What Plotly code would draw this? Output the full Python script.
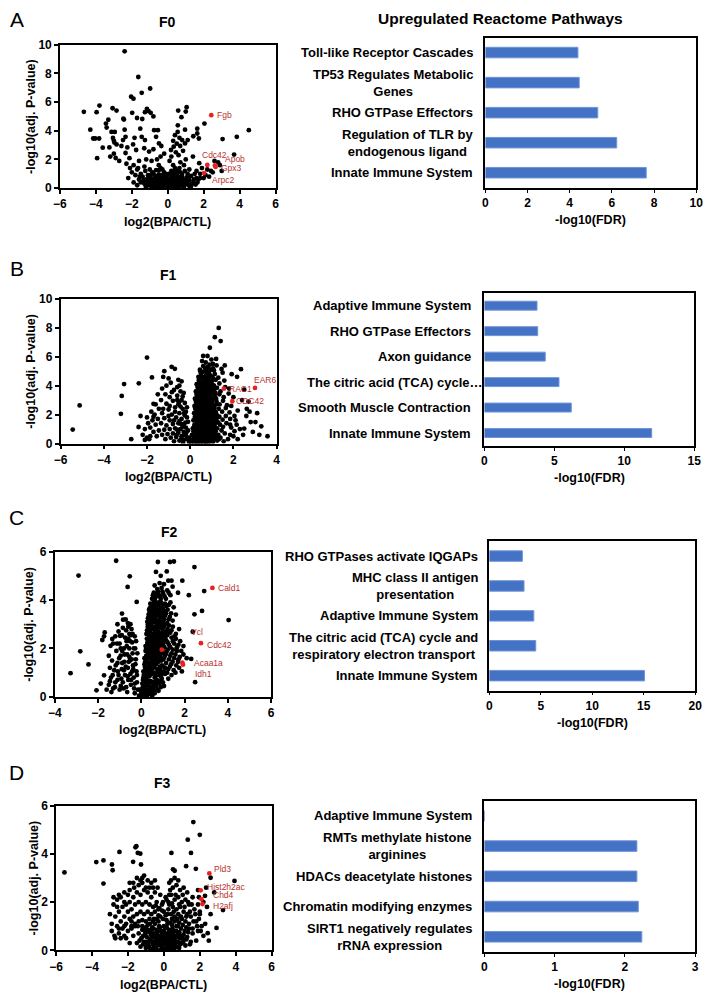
import plotly.graph_objects as go

# ------------------------------------------------------------------ data
# F0 volcano (log2 fold change, -log10 adj. P)
f0_points = [
    (-2.40, 9.54), (-1.64, 7.75), (-0.98, 6.95), (-1.45, 6.65), (-2.04, 6.38), (-1.91, 6.24),
    (-4.67, 5.32), (-3.80, 5.76), (-3.96, 5.30), (-3.07, 5.57), (-2.85, 5.41), (-2.47, 4.84), (-2.44, 4.78),
    (-1.98, 5.25), (-1.71, 4.89), (-1.42, 4.82), (-1.16, 5.53), (-1.07, 5.37), (-1.27, 5.30), (-0.95, 5.25),
    (-0.80, 5.00), (-3.44, 4.50), (-3.31, 4.77), (-3.40, 4.22), (-4.31, 4.08), (-4.15, 3.46), (-4.04, 3.46),
    (-3.82, 3.46), (-3.93, 2.09), (-3.62, 2.82), (-3.25, 2.84), (-3.13, 3.92), (-2.95, 3.92), (-3.05, 3.50),
    (-3.00, 3.30), (-2.97, 3.18), (-2.85, 3.05), (-2.40, 4.08), (-2.35, 3.58), (-2.49, 3.35), (-2.58, 2.94),
    (-2.25, 2.84), (-2.35, 2.45), (-2.13, 2.09), (-1.85, 3.51), (-1.93, 3.05), (-1.76, 2.66), (-1.53, 4.15),
    (-1.45, 3.58), (-1.27, 3.35), (-1.31, 2.78), (-1.04, 2.55), (-0.76, 4.04), (-0.55, 4.04), (-0.65, 3.58),
    (-0.49, 3.12), (-0.36, 2.94), (-0.80, 2.71), (-3.00, 2.40), (-2.90, 2.10), (-2.70, 1.90), (-3.20, 2.20),
    (-2.20, 0.70), (-1.50, 1.00),
    (1.05, 5.64), (1.00, 5.34), (0.58, 5.41), (0.76, 4.95), (0.56, 4.38), (0.96, 4.08), (0.55, 3.92),
    (0.65, 3.51), (0.40, 3.69), (0.80, 3.35), (0.96, 3.12), (1.11, 3.35), (0.69, 2.94), (0.33, 2.89),
    (0.18, 2.66), (1.64, 4.15), (1.64, 3.81), (1.42, 3.62), (1.73, 3.46), (2.04, 4.50), (3.05, 3.42),
    (3.84, 3.58), (4.51, 4.04), (3.69, 2.34), (1.75, 1.74),
    (0.30, 3.30), (0.50, 3.10), (0.45, 2.50), (0.60, 2.30), (0.20, 2.20), (0.85, 2.60), (1.00, 2.00),
    (0.90, 1.60), (1.20, 1.30), (1.40, 2.20), (0.10, 1.90), (-0.20, 2.40), (-0.40, 2.20), (-0.60, 2.00),
    (-0.50, 1.60), (-0.90, 1.90), (-1.20, 2.00), (-1.60, 1.90), (-1.90, 1.60), (-2.10, 1.40), (-2.30, 1.70),
    (-1.70, 1.30), (-1.30, 1.50), (-0.30, 1.30), (0.30, 1.60), (0.70, 1.80),
    (2.20, 1.30), (2.40, 1.20), (1.90, 1.40), (2.10, 0.90), (2.30, 0.80), (2.50, 1.10), (2.90, 1.60),
    (2.80, 1.80), (3.00, 1.20), (2.60, 1.90), (1.80, 1.00), (1.70, 0.60), (2.00, 0.70), (1.60, 1.20),
    (-1.80, 0.90), (-1.60, 0.60), (-1.50, 0.40), (-1.40, 0.80), (-1.30, 0.30), (-1.20, 0.60), (-1.10, 0.90),
    (-1.10, 0.20), (-1.00, 0.50), (-0.95, 0.75), (-0.90, 0.30), (-0.85, 1.10), (-0.80, 0.10), (-0.75, 0.55),
    (-0.70, 0.85), (-0.70, 0.30), (-0.65, 1.25), (-0.60, 0.60), (-0.55, 0.15), (-0.50, 0.45), (-0.50, 0.95),
    (-0.45, 0.70), (-0.40, 0.25), (-0.40, 1.40), (-0.35, 0.55), (-0.30, 0.90), (-0.30, 0.10), (-0.25, 0.40),
    (-0.20, 0.70), (-0.20, 1.10), (-0.15, 0.20), (-0.10, 0.50), (-0.10, 0.85), (-0.05, 0.05), (0.00, 0.30),
    (0.00, 0.65), (0.05, 1.00), (0.10, 0.15), (0.10, 0.45), (0.15, 0.80), (0.20, 0.30), (0.20, 1.20),
    (0.25, 0.60), (0.30, 0.05), (0.30, 0.90), (0.35, 0.35), (0.40, 0.70), (0.40, 1.40), (0.45, 0.15),
    (0.50, 0.50), (0.50, 1.00), (0.55, 0.80), (0.60, 0.25), (0.65, 0.60), (0.70, 1.10), (0.75, 0.40),
    (0.80, 0.80), (0.85, 0.15), (0.90, 0.55), (0.95, 1.20), (1.00, 0.35), (1.05, 0.75), (1.10, 1.00),
    (1.15, 0.20), (1.20, 0.55), (1.30, 0.85), (1.35, 0.30), (1.45, 0.60), (1.50, 1.00), (1.55, 0.25),
    (1.60, 0.70), (-1.70, 0.20), (-1.90, 0.40), (-2.00, 1.10), (-0.60, 0.05), (-0.35, 0.00), (0.15, 0.00),
    (0.60, 0.00), (-0.90, 0.00), (-1.25, 1.20), (-1.00, 1.30), (0.90, 0.00), (1.25, 0.05),
    (-0.78, 0.35), (-0.62, 0.42), (-0.48, 0.28), (-0.33, 0.20), (-0.18, 0.55), (-0.02, 0.40), (0.12, 0.60),
    (0.27, 0.45), (0.42, 0.50), (0.58, 0.42), (0.72, 0.20), (-0.68, 0.72), (-0.52, 0.62), (-0.28, 0.62),
    (-0.08, 0.18), (0.08, 0.30), (0.22, 0.12), (0.38, 0.22), (0.52, 0.30), (0.68, 0.78), (-0.88, 0.60),
    (-1.05, 0.70), (0.82, 0.50), (1.10, 0.45),
    (-1.35, 0.55), (-1.22, 0.10), (-1.15, 0.45), (-0.98, 0.20), (-0.92, 0.45), (-0.82, 0.55), (-0.72, 0.15),
    (-0.58, 0.35), (-0.44, 0.55), (-0.38, 0.10), (-0.24, 0.25), (-0.12, 0.35), (0.03, 0.15), (0.05, 0.50),
    (0.17, 0.42), (0.33, 0.62), (0.45, 0.32), (0.55, 0.10), (0.62, 0.55), (0.78, 0.60), (0.92, 0.20),
    (1.02, 0.55), (1.18, 0.75), (1.30, 0.15), (1.42, 0.40), (-0.60, 0.80), (-0.35, 0.75), (-0.12, 1.00),
    (0.25, 0.90), (0.55, 1.20), (0.80, 1.00), (-0.80, 1.00), (-1.00, 0.90), (0.35, 1.15), (-0.50, 1.25),
    (0.65, 1.40), (-1.55, 0.80), (1.65, 0.40), (1.80, 0.70), (-1.65, 1.40),
]
f0_genes = ["Fgb", "Cdc42", "Apob", "Gpx3", "Arpc2"]
f0_red = [(2.42, 5.09), (2.20, 1.62), (2.62, 1.58), (2.66, 1.48), (2.02, 1.05)]

# F1 volcano
f1_points = [
    (-5.44, 0.96), (-5.12, 2.63), (-3.06, 4.11), (-3.17, 3.29), (-3.21, 2.05), (-2.38, 4.16), (-2.39, 1.14),
    (-2.73, 0.30), (-2.00, 5.94), (-1.77, 4.57), (-1.70, 2.74),
    (-0.86, 5.30), (-0.71, 5.16), (-1.20, 5.00), (-1.25, 4.60), (-1.00, 4.50), (-0.55, 4.40), (-1.10, 4.00),
    (-0.90, 4.20), (-0.40, 4.30), (-0.60, 3.90), (-1.30, 3.80), (-0.75, 3.70), (-0.45, 3.60), (-1.50, 3.40),
    (-1.15, 3.40), (-0.30, 3.50), (-0.95, 3.20), (-0.60, 3.30), (-1.35, 3.00), (-0.80, 2.95), (-0.40, 3.00),
    (-1.60, 2.70), (-1.10, 2.75), (-0.55, 2.70), (-0.25, 2.80), (-1.80, 2.20), (-1.45, 2.40), (-1.00, 2.35),
    (-0.70, 2.50), (-0.35, 2.40), (-2.00, 1.80), (-1.65, 2.00), (-1.30, 2.10), (-0.85, 2.00), (-0.50, 2.10),
    (-0.20, 2.20), (-1.95, 1.40), (-1.75, 1.60), (-1.50, 1.70), (-1.20, 1.75), (-0.95, 1.60), (-0.65, 1.80),
    (-0.40, 1.70), (-0.15, 1.80), (-2.10, 1.00), (-1.85, 1.10), (-1.60, 1.30), (-1.35, 1.40), (-1.10, 1.25),
    (-0.80, 1.35), (-0.55, 1.40), (-0.30, 1.30), (-0.10, 1.50), (-1.70, 0.80), (-1.45, 0.90), (-1.20, 0.95),
    (-0.95, 1.00), (-0.70, 1.05), (-0.45, 1.00), (-0.20, 1.10), (-1.55, 0.50), (-1.30, 0.60), (-1.05, 0.65),
    (-0.80, 0.70), (-0.55, 0.75), (-0.30, 0.80), (-0.10, 0.90), (-1.15, 0.30), (-0.90, 0.40), (-0.65, 0.45),
    (-0.40, 0.50), (-0.20, 0.55), (-0.75, 0.15), (-0.50, 0.20), (-0.30, 0.25), (-0.15, 0.30), (-0.05, 0.10),
    (-0.60, 3.00), (-0.45, 2.55), (-0.70, 2.20), (-0.25, 1.95), (-0.50, 1.55), (-0.35, 1.15), (-0.60, 0.95),
    (-0.25, 0.60), (-0.40, 0.35), (-0.95, 2.60), (-1.25, 2.40), (-0.85, 3.55), (-0.50, 4.00), (-1.70, 1.85),
    (-0.15, 2.50), (-0.10, 0.35), (-0.35, 3.25), (-0.75, 1.60), (-1.00, 1.90), (-2.30, 1.90), (-2.20, 0.60),
    (-2.00, 0.40), (-1.90, 0.30), (-2.10, 0.25), (-1.85, 0.50), (-0.28, 2.10), (-0.42, 1.35), (-0.18, 0.75),
    (-0.62, 0.60), (-0.33, 0.05), (-0.52, 2.85), (-0.22, 1.45),
    (0.05, 0.05), (0.12, 0.25), (0.18, 0.10), (0.25, 0.35), (0.30, 0.15), (0.38, 0.40), (0.45, 0.08),
    (0.50, 0.30), (0.58, 0.18), (0.65, 0.42), (0.72, 0.10), (0.80, 0.30), (0.88, 0.20), (0.95, 0.45),
    (1.05, 0.12), (1.15, 0.35), (1.25, 0.20), (1.40, 0.40), (1.55, 0.15), (1.75, 0.30), (0.00, 0.20),
    (-0.05, 0.40),
    (0.08, 0.60), (0.15, 0.85), (0.22, 0.55), (0.30, 0.75), (0.36, 0.95), (0.42, 0.60), (0.50, 0.85),
    (0.56, 0.55), (0.63, 0.75), (0.70, 0.95), (0.77, 0.60), (0.85, 0.80), (0.92, 0.55), (1.00, 0.90),
    (1.08, 0.65), (1.18, 0.85), (1.30, 0.60), (1.45, 0.90), (1.60, 0.70), (1.85, 0.60), (2.05, 0.85),
    (0.12, 1.05), (0.20, 1.30), (0.27, 1.10), (0.34, 1.45), (0.40, 1.20), (0.47, 1.00), (0.54, 1.35),
    (0.60, 1.15), (0.68, 1.40), (0.74, 1.05), (0.82, 1.30), (0.90, 1.10), (0.97, 1.45), (1.05, 1.20),
    (1.15, 1.40), (1.25, 1.05), (1.38, 1.30), (1.52, 1.15), (1.68, 1.40), (1.90, 1.10), (2.15, 1.30),
    (0.15, 1.60), (0.22, 1.85), (0.30, 1.55), (0.37, 1.75), (0.44, 1.95), (0.50, 1.60), (0.57, 1.80),
    (0.64, 1.55), (0.71, 1.90), (0.78, 1.65), (0.86, 1.85), (0.94, 1.55), (1.02, 1.75), (1.12, 1.95),
    (1.22, 1.60), (1.35, 1.85), (1.50, 1.65), (1.65, 1.90), (1.85, 1.70), (2.05, 1.90),
    (0.18, 2.10), (0.25, 2.35), (0.32, 2.05), (0.40, 2.25), (0.47, 2.45), (0.54, 2.10), (0.61, 2.30),
    (0.68, 2.05), (0.75, 2.40), (0.83, 2.15), (0.90, 2.35), (0.98, 2.05), (1.08, 2.30), (1.20, 2.10),
    (1.32, 2.40), (1.48, 2.20), (1.65, 2.45), (1.82, 2.15),
    (0.20, 2.60), (0.28, 2.85), (0.36, 2.55), (0.43, 2.75), (0.50, 2.95), (0.58, 2.60), (0.66, 2.80),
    (0.74, 2.55), (0.82, 2.90), (0.90, 2.65), (0.99, 2.85), (1.10, 2.60), (1.22, 2.90), (1.36, 2.70),
    (1.52, 2.95), (1.70, 2.65),
    (0.22, 3.10), (0.30, 3.35), (0.38, 3.05), (0.46, 3.25), (0.54, 3.45), (0.62, 3.10), (0.70, 3.30),
    (0.78, 3.05), (0.87, 3.40), (0.96, 3.15), (1.07, 3.35), (1.20, 3.10), (1.35, 3.40), (1.55, 3.20),
    (1.78, 3.45),
    (0.26, 3.60), (0.35, 3.85), (0.44, 3.55), (0.52, 3.75), (0.60, 3.95), (0.69, 3.60), (0.78, 3.80),
    (0.88, 3.55), (0.98, 3.90), (1.10, 3.65), (1.24, 3.85), (1.40, 3.60), (1.62, 3.90),
    (0.30, 4.10), (0.40, 4.35), (0.50, 4.05), (0.60, 4.25), (0.70, 4.45), (0.80, 4.10), (0.92, 4.30),
    (1.04, 4.05), (1.18, 4.40), (1.35, 4.15), (1.58, 4.35),
    (0.38, 4.60), (0.50, 4.85), (0.62, 4.55), (0.74, 4.75), (0.87, 4.95), (1.00, 4.60), (1.14, 4.80),
    (1.30, 4.55), (1.50, 4.90),
    (0.45, 5.10), (0.60, 5.35), (0.75, 5.15), (0.90, 5.45), (1.05, 5.20), (1.22, 5.40), (1.45, 5.15),
    (0.55, 5.70), (0.72, 5.60), (0.98, 5.80), (1.20, 5.85), (0.60, 6.05), (0.80, 6.05), (0.91, 6.62),
    (1.14, 7.35), (1.41, 7.08), (1.32, 7.99), (1.60, 5.40), (1.05, 5.50),
    (0.24, 0.50), (0.33, 0.05), (0.41, 0.30), (0.48, 0.70), (0.55, 0.25), (0.62, 0.05), (0.69, 0.60),
    (0.76, 0.35), (0.84, 0.05), (0.91, 0.70), (0.99, 0.30), (1.10, 0.50), (0.26, 1.60), (0.33, 1.00),
    (0.40, 1.70), (0.48, 1.25), (0.55, 2.00), (0.62, 1.35), (0.70, 1.70), (0.78, 1.20), (0.85, 2.00),
    (0.92, 1.30), (1.00, 1.60), (1.10, 1.00), (0.28, 2.20), (0.35, 2.70), (0.42, 3.00), (0.50, 2.30),
    (0.57, 3.30), (0.64, 2.50), (0.71, 3.50), (0.79, 2.70), (0.86, 3.60), (0.94, 2.90), (1.02, 3.70),
    (1.12, 2.45), (0.34, 3.50), (0.42, 3.90), (0.50, 4.20), (0.58, 4.60), (0.66, 3.40), (0.74, 4.00),
    (0.83, 4.60), (0.93, 3.80), (1.06, 4.40), (0.47, 5.00), (0.68, 5.00), (0.83, 5.30),
    (0.17, 0.42), (0.21, 0.18), (0.29, 0.62), (0.36, 0.22), (0.44, 0.50), (0.52, 0.15), (0.59, 0.65),
    (0.67, 0.28), (0.74, 0.78), (0.82, 0.45), (0.89, 0.15), (0.97, 0.62), (1.03, 0.38), (1.13, 0.72),
    (1.22, 0.45), (1.33, 0.30), (0.19, 1.18), (0.24, 0.95), (0.31, 1.30), (0.38, 1.05), (0.45, 1.55),
    (0.52, 0.90), (0.59, 1.60), (0.66, 1.10), (0.73, 1.50), (0.81, 0.95), (0.88, 1.55), (0.95, 1.15),
    (1.04, 1.50), (1.13, 1.20), (1.20, 1.75), (1.30, 1.45), (0.21, 1.72), (0.27, 2.00), (0.34, 1.90),
    (0.41, 2.15), (0.48, 1.85), (0.55, 2.20), (0.62, 1.75), (0.69, 2.20), (0.76, 1.95), (0.83, 2.28),
    (0.90, 1.95), (0.97, 2.20), (1.06, 1.90), (1.15, 2.20), (1.25, 1.90), (0.23, 2.45), (0.30, 2.70),
    (0.37, 2.40), (0.44, 2.60), (0.51, 2.45), (0.58, 2.75), (0.65, 2.40), (0.72, 2.65), (0.79, 2.40),
    (0.86, 2.70), (0.93, 2.45), (1.01, 2.70), (1.10, 2.45), (1.20, 2.70), (0.26, 2.95), (0.33, 3.20),
    (0.40, 2.90), (0.47, 3.10), (0.55, 3.30), (0.63, 2.95), (0.71, 3.20), (0.79, 3.35), (0.87, 3.05),
    (0.95, 3.30), (1.04, 3.00), (1.14, 3.25), (0.30, 3.45), (0.38, 3.70), (0.46, 3.40), (0.54, 3.62),
    (0.62, 3.50), (0.70, 3.75), (0.78, 3.45), (0.86, 3.72), (0.95, 3.45), (1.05, 3.75), (1.17, 3.50),
    (0.35, 3.95), (0.43, 4.20), (0.52, 3.90), (0.61, 4.10), (0.70, 3.95), (0.79, 4.25), (0.88, 3.95),
    (0.98, 4.20), (1.10, 4.00), (0.42, 4.45), (0.52, 4.65), (0.62, 4.40), (0.72, 4.60), (0.82, 4.40),
    (0.93, 4.70), (1.06, 4.50), (0.55, 4.95), (0.68, 5.25), (0.80, 4.90), (0.95, 5.10), (1.10, 5.05),
    (2.35, 5.14), (1.92, 4.79), (2.17, 4.61), (2.50, 3.72), (2.62, 2.40), (2.20, 2.28), (2.80, 1.48),
    (3.02, 1.48), (3.29, 1.19), (3.58, 0.50), (2.50, 1.03), (2.30, 1.00), (2.10, 1.60), (1.90, 2.60),
    (2.00, 3.20), (2.40, 3.00), (2.70, 2.90), (1.80, 3.80), (2.60, 1.90), (2.90, 0.80), (3.20, 0.60),
    (2.00, 0.50), (2.20, 0.30), (1.85, 1.30), (2.45, 0.60), (2.75, 2.20), (3.10, 2.10),
]
f1_genes = ["RAC1", "EAR6", "CDC42"]
f1_red = [(1.56, 3.79), (3.00, 3.84), (1.95, 2.92)]

# F2 volcano
f2_points = [
    (-2.90, 5.01), (-2.82, 1.88), (-3.27, 0.98), (-2.44, 1.34), (-1.16, 5.62), (-0.53, 4.98), (-0.63, 4.54),
    (-0.21, 3.92), (-2.07, 0.27), (-1.87, 0.55), (-1.72, 0.89), (-1.69, 2.66), (-1.72, 2.50), (-1.80, 2.35),
    (-1.34, 2.39), (-1.42, 2.11), (-0.98, 2.52), (-0.89, 3.44), (-0.84, 3.19), (-1.50, 1.70), (-1.10, 3.00),
    (0.77, 5.57), (1.33, 5.57), (1.51, 5.59), (0.68, 5.16), (1.18, 5.18), (2.46, 5.36), (2.91, 4.37),
    (2.81, 3.55), (2.46, 3.41), (4.04, 3.17), (2.38, 2.69), (2.31, 1.57), (2.49, 0.61), (0.90, 5.00),
    (1.40, 4.80), (1.90, 4.80), (2.20, 4.20), (1.70, 4.30),
    (-1.50, 0.50), (-1.40, 0.80), (-1.30, 0.35), (-1.25, 1.10), (-1.20, 0.60), (-1.10, 1.40), (-1.05, 0.90),
    (-1.00, 0.30), (-0.95, 1.70), (-0.90, 1.15), (-0.85, 0.60), (-0.80, 2.00), (-0.78, 1.45), (-0.75, 0.90),
    (-0.70, 0.40), (-0.68, 2.30), (-0.65, 1.75), (-0.62, 1.20), (-0.60, 0.70), (-0.55, 2.60), (-0.55, 2.00),
    (-0.52, 1.50), (-0.50, 0.95), (-0.48, 0.50), (-0.45, 2.80), (-0.42, 2.25), (-0.40, 1.80), (-0.38, 1.30),
    (-0.35, 0.80), (-0.33, 0.35), (-0.30, 2.50), (-0.28, 2.00), (-0.25, 1.55), (-0.22, 1.05), (-0.20, 0.60),
    (-0.15, 0.30), (-1.35, 1.50), (-1.15, 1.90), (-1.00, 2.20), (-0.90, 2.55), (-0.70, 2.75), (-0.60, 2.90),
    (-1.45, 1.20), (-1.60, 0.30), (-1.20, 2.50), (-1.05, 2.70), (-0.85, 2.85), (-0.50, 3.00), (-0.72, 3.20),
    (-1.30, 2.20), (-0.95, 0.45), (-0.80, 1.10), (-0.65, 0.20), (-0.55, 1.65), (-0.42, 1.05), (-0.30, 0.15),
    (-1.10, 0.70), (-1.38, 0.20), (-0.88, 1.90), (-0.60, 2.40),
    (-1.45, 0.65), (-1.32, 0.90), (-1.22, 0.40), (-1.18, 1.30), (-1.08, 1.05), (-1.02, 1.60), (-0.92, 0.75),
    (-0.88, 1.40), (-0.82, 0.35), (-0.77, 1.75), (-0.72, 1.25), (-0.67, 2.10), (-0.63, 0.85), (-0.58, 1.45),
    (-0.52, 2.30), (-0.47, 0.70), (-0.44, 1.55), (-0.40, 2.60), (-0.37, 1.15), (-0.34, 2.00), (-0.30, 0.55),
    (-0.27, 1.35), (-0.24, 2.30), (-0.20, 0.90), (-0.18, 1.80), (-0.48, 2.55), (-0.75, 2.45), (-0.95, 2.00),
    (-1.12, 2.20), (-0.62, 3.05),
    (-0.10, 0.05), (0.00, 0.20), (0.05, 0.08), (0.10, 0.35), (0.15, 0.15), (0.20, 0.45), (0.25, 0.05),
    (0.30, 0.30), (0.35, 0.12), (0.40, 0.42), (0.45, 0.22), (0.50, 0.05), (0.55, 0.35), (0.62, 0.15),
    (0.70, 0.45), (0.80, 0.25), (0.90, 0.40), (-0.05, 0.30), (0.12, 0.00), (0.28, 0.18),
    (0.05, 0.55), (0.10, 0.80), (0.15, 0.60), (0.20, 0.95), (0.26, 0.70), (0.32, 0.55), (0.38, 0.85),
    (0.44, 0.65), (0.50, 0.95), (0.56, 0.60), (0.62, 0.80), (0.68, 0.55), (0.75, 0.90), (0.82, 0.65),
    (0.90, 0.85), (1.00, 0.60), (1.10, 0.95), (1.25, 0.75), (1.40, 0.90),
    (0.10, 1.05), (0.15, 1.35), (0.20, 1.15), (0.26, 1.45), (0.32, 1.05), (0.38, 1.30), (0.44, 1.10),
    (0.50, 1.45), (0.56, 1.20), (0.62, 1.00), (0.68, 1.35), (0.74, 1.15), (0.80, 1.45), (0.88, 1.10),
    (0.96, 1.30), (1.05, 1.05), (1.15, 1.40), (1.25, 1.15), (1.38, 1.35), (1.50, 1.10), (1.62, 1.30),
    (1.75, 1.20), (1.88, 1.05),
    (0.15, 1.60), (0.20, 1.90), (0.26, 1.55), (0.32, 1.75), (0.38, 1.95), (0.44, 1.60), (0.50, 1.80),
    (0.56, 1.55), (0.62, 1.95), (0.68, 1.70), (0.75, 1.50), (0.82, 1.85), (0.90, 1.60), (0.98, 1.90),
    (1.07, 1.65), (1.17, 1.85), (1.28, 1.55), (1.40, 1.80), (1.52, 1.60), (1.65, 1.90), (1.78, 1.65),
    (1.95, 1.75), (2.10, 1.60),
    (0.20, 2.10), (0.26, 2.40), (0.32, 2.05), (0.38, 2.30), (0.44, 2.45), (0.50, 2.15), (0.56, 2.35),
    (0.62, 2.05), (0.68, 2.45), (0.75, 2.20), (0.82, 2.40), (0.90, 2.10), (0.98, 2.35), (1.07, 2.05),
    (1.17, 2.30), (1.28, 2.15), (1.40, 2.45), (1.52, 2.20), (1.65, 2.05), (1.80, 2.30), (1.95, 2.10),
    (0.24, 2.60), (0.30, 2.90), (0.36, 2.55), (0.42, 2.75), (0.48, 2.95), (0.54, 2.60), (0.60, 2.80),
    (0.66, 2.55), (0.72, 2.90), (0.79, 2.70), (0.86, 2.95), (0.94, 2.60), (1.03, 2.85), (1.12, 2.55),
    (1.22, 2.80), (1.34, 2.65), (1.46, 2.90), (1.60, 2.60), (1.75, 2.80),
    (0.28, 3.10), (0.34, 3.40), (0.40, 3.05), (0.46, 3.25), (0.52, 3.45), (0.58, 3.10), (0.64, 3.30),
    (0.70, 3.05), (0.77, 3.40), (0.84, 3.20), (0.92, 3.45), (1.00, 3.10), (1.10, 3.35), (1.20, 3.05),
    (1.32, 3.30), (1.45, 3.15), (1.60, 3.40),
    (0.36, 3.60), (0.42, 3.85), (0.48, 3.55), (0.55, 3.75), (0.62, 3.95), (0.69, 3.60), (0.76, 3.80),
    (0.84, 3.55), (0.92, 3.90), (1.00, 3.65), (1.10, 3.85), (1.22, 3.60), (1.35, 3.90), (1.50, 3.70),
    (0.50, 4.05), (0.58, 4.30), (0.66, 4.10), (0.74, 4.45), (0.82, 4.20), (0.90, 4.05), (0.98, 4.35),
    (1.08, 4.15), (1.20, 4.40), (1.35, 4.20), (0.62, 4.60), (0.85, 4.70), (1.05, 4.65), (1.25, 4.80),
    (1.45, 4.55),
    (0.08, 0.70), (0.18, 0.28), (0.23, 0.82), (0.35, 0.60), (0.42, 1.00), (0.48, 0.35), (0.53, 1.25),
    (0.60, 0.45), (0.65, 1.55), (0.72, 0.70), (0.78, 1.75), (0.85, 1.00), (0.93, 1.50), (1.02, 1.25),
    (0.17, 1.25), (0.23, 1.70), (0.29, 2.25), (0.35, 1.40), (0.41, 2.60), (0.47, 1.70), (0.53, 2.85),
    (0.59, 2.20), (0.65, 2.70), (0.71, 2.30), (0.77, 3.10), (0.83, 2.55), (0.89, 3.30), (0.95, 2.45),
    (1.04, 2.65), (1.12, 1.75), (1.20, 2.55), (0.31, 3.25), (0.39, 3.65), (0.45, 2.90), (0.51, 3.60),
    (0.57, 4.00), (0.63, 3.45), (0.73, 3.85), (0.80, 3.00), (0.88, 3.75), (0.97, 3.00), (1.08, 3.50),
    (0.02, 0.12), (0.07, 0.40), (0.14, 0.52), (0.22, 0.20), (0.27, 0.48), (0.33, 0.25), (0.39, 0.65),
    (0.46, 0.15), (0.52, 0.55), (0.58, 0.25), (0.66, 0.65), (0.74, 0.30), (0.85, 0.55), (0.95, 0.75),
    (1.05, 0.45), (0.12, 0.90), (0.18, 1.10), (0.24, 0.95), (0.30, 1.20), (0.36, 1.00), (0.42, 1.25),
    (0.48, 1.05), (0.54, 1.40), (0.60, 1.25), (0.66, 0.90), (0.72, 1.45), (0.78, 1.05), (0.86, 1.25),
    (0.94, 0.95), (1.10, 1.20), (1.20, 1.00), (1.32, 1.25), (1.45, 1.45), (1.58, 1.00), (1.70, 1.45),
    (0.18, 1.45), (0.23, 1.55), (0.29, 1.85), (0.35, 1.60), (0.41, 1.80), (0.47, 1.55), (0.53, 1.90),
    (0.59, 1.65), (0.65, 1.85), (0.71, 1.60), (0.78, 1.90), (0.86, 1.70), (0.94, 1.80), (1.02, 1.55),
    (1.12, 1.75), (1.22, 1.95), (1.34, 1.70), (1.46, 1.95), (1.58, 1.75), (1.72, 1.55), (1.85, 1.90),
    (0.23, 2.00), (0.29, 2.20), (0.35, 2.35), (0.41, 2.10), (0.47, 2.30), (0.53, 2.05), (0.59, 2.40),
    (0.65, 2.15), (0.71, 2.40), (0.78, 2.05), (0.86, 2.25), (0.94, 2.45), (1.02, 2.20), (1.12, 2.40),
    (1.22, 2.25), (1.34, 2.05), (1.46, 2.30), (1.60, 2.40), (1.72, 2.15),
    (0.27, 2.75), (0.33, 2.60), (0.39, 2.85), (0.45, 2.60), (0.51, 2.80), (0.57, 2.55), (0.63, 2.90),
    (0.69, 2.65), (0.75, 2.85), (0.83, 2.60), (0.90, 2.85), (0.99, 2.70), (1.08, 2.95), (1.17, 2.70),
    (1.28, 2.95), (1.40, 2.75), (1.53, 2.50), (0.31, 3.00), (0.37, 3.20), (0.43, 3.40), (0.49, 3.10),
    (0.55, 3.35), (0.61, 3.20), (0.67, 3.45), (0.74, 3.15), (0.81, 3.35), (0.88, 3.10), (0.96, 3.30),
    (1.05, 3.20), (1.15, 3.45), (1.26, 3.20), (1.38, 3.45), (0.39, 3.50), (0.45, 3.75), (0.52, 3.60),
    (0.59, 3.85), (0.66, 3.70), (0.73, 3.55), (0.80, 3.90), (0.88, 3.65), (0.96, 3.80), (1.05, 3.55),
    (1.16, 3.75), (1.28, 3.80), (0.54, 4.20), (0.62, 4.00), (0.70, 4.25), (0.78, 4.35), (0.86, 4.15),
    (0.94, 4.50), (1.02, 4.25), (1.14, 4.05), (1.27, 4.30),
]
f2_genes = ["Cald1", "Vcl", "Cdc42", "Acaa1a", "Idh1"]
f2_red = [(3.29, 4.50), (0.95, 1.95), (2.76, 2.22), (1.90, 1.41), (1.93, 1.33)]

# F3 volcano
f3_points = [
    (-5.53, 3.23), (-3.76, 3.66), (-3.36, 3.73), (-3.36, 2.77), (-2.89, 3.56), (-2.85, 3.32), (-2.47, 4.08),
    (-1.71, 3.67), (-1.58, 4.27), (-1.53, 4.32), (-1.45, 4.04), (-1.31, 4.01), (-1.27, 3.56), (1.64, 5.32),
    (2.00, 4.79), (1.33, 4.59), (0.42, 4.04), (1.51, 4.04), (1.78, 3.38), (1.24, 3.49), (0.51, 3.36),
    (0.60, 3.30), (2.60, 3.01), (3.93, 2.88), (2.29, 2.26), (3.29, 1.67), (2.93, 0.93), (2.44, 0.71),
    (-2.80, 1.90), (-2.60, 2.10), (-2.40, 2.20), (-2.20, 2.40), (-2.00, 2.30), (-1.90, 2.50), (-1.70, 2.80),
    (-1.50, 3.00), (-1.30, 2.90), (-1.10, 3.10), (-0.90, 2.90), (-0.70, 2.80), (-0.50, 2.90), (-2.70, 1.40),
    (-2.50, 1.60), (-2.30, 1.80), (-2.10, 1.90), (-1.90, 2.00), (-1.70, 2.20), (-1.50, 2.40), (-1.30, 2.30),
    (-1.10, 2.50), (-0.90, 2.40), (-0.70, 2.20), (-0.50, 2.40), (-0.35, 2.60), (-2.90, 0.80), (-2.60, 1.00),
    (-2.40, 1.20), (-2.20, 1.40), (-2.00, 1.60), (-1.80, 1.70), (-1.60, 1.90), (-1.40, 2.00), (-1.20, 1.90),
    (-1.00, 2.00), (-0.80, 1.90), (-0.60, 1.80), (-0.40, 2.00), (-2.70, 0.50), (-2.50, 0.70), (-2.30, 0.90),
    (-2.10, 1.10), (-1.90, 1.30), (-1.70, 1.40), (-1.50, 1.50), (-1.30, 1.60), (-1.10, 1.50), (-0.90, 1.60),
    (-0.70, 1.50), (-0.50, 1.60), (-0.30, 1.70), (-2.40, 0.50), (-2.20, 0.60), (-2.00, 0.80), (-1.80, 1.00),
    (-1.60, 1.10), (-1.40, 1.20), (-1.20, 1.25), (-1.00, 1.20), (-0.80, 1.30), (-0.60, 1.20), (-0.40, 1.30),
    (-0.20, 1.40), (-3.00, 1.50), (-2.90, 1.10), (-2.75, 0.60), (-2.60, 1.80), (-2.50, 2.30), (-2.20, 2.00),
    (-1.90, 2.80), (-1.65, 2.60), (-1.40, 2.70), (-1.20, 2.80), (-1.00, 2.60), (-0.80, 2.60), (-1.80, 1.20),
    (-2.20, 1.00), (-1.20, 3.00), (-0.60, 2.60), (-2.80, 2.20), (-2.50, 0.90),
    (-1.50, 0.30), (-1.40, 0.70), (-1.30, 0.15), (-1.25, 0.50), (-1.20, 1.00), (-1.10, 0.35), (-1.05, 0.80),
    (-1.00, 0.10), (-0.95, 0.55), (-0.90, 1.05), (-0.85, 0.30), (-0.80, 0.75), (-0.75, 0.05), (-0.70, 0.50),
    (-0.65, 0.95), (-0.60, 0.25), (-0.55, 0.70), (-0.50, 1.10), (-0.50, 0.05), (-0.45, 0.45), (-0.40, 0.85),
    (-0.35, 0.20), (-0.30, 0.60), (-0.30, 1.20), (-0.25, 0.00), (-0.20, 0.40), (-0.15, 0.80), (-0.10, 0.15),
    (-0.05, 0.55), (0.00, 1.00), (0.00, 0.30), (0.05, 0.05), (0.10, 0.70), (0.15, 0.35), (0.20, 1.10),
    (0.20, 0.10), (0.25, 0.55), (0.30, 0.85), (0.35, 0.25), (0.40, 0.60), (0.45, 1.05), (0.50, 0.10),
    (0.50, 0.40), (0.55, 0.80), (0.60, 0.25), (0.65, 0.60), (0.70, 1.00), (0.75, 0.35), (0.80, 0.70),
    (0.85, 0.10), (0.90, 0.50), (0.95, 0.90), (1.00, 0.30), (1.10, 0.65), (1.20, 0.20), (1.30, 0.55),
    (1.40, 0.90), (1.50, 0.35), (1.60, 0.70), (1.80, 0.40), (-1.70, 0.60), (-1.90, 0.30), (-2.10, 0.50),
    (-1.60, 1.00), (-1.80, 0.90),
    (-0.92, 0.20), (-0.78, 0.45), (-0.62, 0.60), (-0.48, 0.30), (-0.38, 0.55), (-0.28, 0.35), (-0.18, 0.20),
    (-0.08, 0.40), (0.02, 0.60), (0.12, 0.45), (0.22, 0.30), (0.32, 0.50), (0.42, 0.20), (0.52, 0.65),
    (0.62, 0.45), (0.72, 0.15), (0.82, 0.55), (-0.68, 0.85), (-0.42, 0.68), (-0.22, 0.95), (0.08, 0.90),
    (0.28, 0.72), (0.48, 0.90), (0.68, 0.80), (-0.12, 0.65), (0.18, 0.58), (0.38, 0.05), (-0.58, 0.10),
    (-1.15, 0.60), (1.05, 0.50), (0.88, 0.32), (-0.05, 0.25),
    (-1.35, 0.40), (-1.15, 0.25), (-1.02, 0.70), (-0.98, 0.35), (-0.88, 0.85), (-0.82, 0.15), (-0.72, 0.65),
    (-0.64, 0.35), (-0.57, 0.90), (-0.52, 0.55), (-0.44, 0.10), (-0.36, 0.75), (-0.32, 0.40), (-0.26, 1.00),
    (-0.16, 0.50), (-0.12, 0.05), (-0.02, 0.80), (0.04, 0.45), (0.14, 0.20), (0.16, 0.95), (0.24, 0.40),
    (0.34, 0.70), (0.36, 0.15), (0.44, 0.35), (0.46, 0.80), (0.56, 0.55), (0.58, 0.05), (0.66, 0.30),
    (0.74, 0.60), (0.78, 1.00), (0.86, 0.75), (0.92, 0.25), (0.98, 0.60), (1.08, 0.35), (1.16, 0.80),
    (1.25, 0.45), (1.35, 0.75), (1.45, 0.25), (-1.45, 1.00), (-1.20, 0.85), (-1.00, 0.95), (-0.78, 1.10),
    (-0.55, 1.30), (-0.30, 1.45), (-0.05, 1.30), (0.15, 1.25), (0.35, 1.15), (0.60, 1.20), (0.85, 1.15),
    (1.05, 1.05), (1.25, 0.95), (-0.10, 1.65), (0.10, 1.45), (0.25, 1.70), (-0.25, 1.75), (-0.45, 1.85),
    (0.45, 1.95), (0.15, 2.10), (-0.05, 2.00), (0.30, 2.30),
    (0.30, 2.80), (0.50, 2.60), (0.70, 2.70), (0.90, 2.50), (1.10, 2.60), (1.30, 2.40), (1.60, 2.20),
    (1.90, 1.90), (0.40, 2.30), (0.60, 2.10), (0.80, 2.20), (1.00, 2.00), (1.20, 2.10), (1.40, 1.90),
    (1.70, 1.70), (2.00, 1.50), (0.30, 1.90), (0.50, 1.80), (0.70, 1.70), (0.90, 1.80), (1.10, 1.60),
    (1.30, 1.50), (1.50, 1.40), (1.80, 1.20), (2.10, 1.00), (0.40, 1.50), (0.60, 1.40), (0.80, 1.50),
    (1.00, 1.30), (1.20, 1.20), (1.40, 1.10), (1.60, 0.90), (1.90, 0.80), (2.20, 0.60), (0.20, 1.50),
    (0.25, 2.00), (0.35, 2.50), (0.45, 1.30), (0.55, 1.60), (0.65, 2.30), (0.75, 1.30), (0.85, 1.90),
    (0.95, 1.40), (1.05, 2.30), (1.15, 1.80), (1.25, 1.40), (1.35, 2.00), (1.45, 1.60), (1.55, 1.90),
    (1.65, 1.20), (1.75, 1.50), (1.85, 1.00), (1.95, 1.30), (2.05, 0.80), (2.30, 1.10), (2.50, 0.40),
    (0.10, 2.20), (0.00, 1.60), (-0.10, 1.90), (-0.20, 2.30), (0.40, 2.90), (0.80, 2.90), (0.60, 3.00),
    (2.20, 2.00), (2.40, 1.80), (2.60, 1.50), (2.80, 2.40), (2.35, 2.60), (1.90, 2.50), (2.00, 1.60),
    (1.95, 2.20),
]
f3_genes = ["Pld3", "Hist2h2ac", "Chd4", "H2afj"]
f3_red = [(2.53, 3.19), (2.05, 2.49), (2.09, 2.12), (2.15, 1.92)]

# Upregulated Reactome pathways (-log10 FDR), listed top to bottom
f0_pathways = ["Toll-like Receptor Cascades", "TP53 Regulates Metabolic<br>Genes", "RHO GTPase Effectors",
               "Regulation of TLR by<br>endogenous ligand", "Innate Immune System"]
f0_fdr = [4.39, 4.45, 5.33, 6.23, 7.63]
f1_pathways = ["Adaptive Immune System", "RHO GTPase Effectors", "Axon guidance",
               "The citric acid (TCA) cycle…", "Smooth Muscle Contraction", "Innate Immune System"]
f1_fdr = [3.76, 3.81, 4.35, 5.33, 6.21, 11.96]
f2_pathways = ["RHO GTPases activate IQGAPs", "MHC class II antigen<br>presentation", "Adaptive Immune System",
               "The citric acid (TCA) cycle and<br>respiratory electron transport", "Innate Immune System"]
f2_fdr = [3.21, 3.37, 4.32, 4.51, 15.07]
f3_pathways = ["Adaptive Immune System", "RMTs methylate histone<br>arginines", "HDACs deacetylate histones",
               "Chromatin modifying enzymes", "SIRT1 negatively regulates<br>rRNA expression"]
f3_fdr = [0.0, 2.17, 2.17, 2.19, 2.24]

panel_titles = ["F0", "F1", "F2", "F3"]
panel_letters = ["A", "B", "C", "D"]
volcano_x_ticks = [[-6, -4, -2, 0, 2, 4, 6], [-6, -4, -2, 0, 2, 4], [-4, -2, 0, 2, 4, 6], [-6, -4, -2, 0, 2, 4, 6]]
volcano_y_ticks = [[0, 2, 4, 6, 8, 10], [0, 2, 4, 6, 8, 10], [0, 2, 4, 6], [0, 2, 4, 6]]
bar_x_ticks = [[0, 2, 4, 6, 8, 10], [0, 5, 10, 15], [0, 5, 10, 15, 20], [0, 1, 2, 3]]

# ------------------------------------------------------------------ layout helpers
W, H = 712, 1000
FONT = "Liberation Sans, Arial, Helvetica, sans-serif"
BLUE = "#4472C4"


def fx(p):
    return p / W


def fy(p):
    return 1 - p / H


panels = [
    dict(points=f0_points, red=f0_red, genes=f0_genes, paths=f0_pathways, fdr=f0_fdr,
         sx=(54, 274), sy=(38.3, 183.7), bx=(488, 703), by=(31, 183.3),
         title_xy=(164, 15), letter_y=13, ytitle_x=25, label_right=477, xtitle_gap=34,
         shifts=[(4, 0), (-7, 10), (8, 6), (3, -1), (6, -7)]),
    dict(points=f1_points, red=f1_red, genes=f1_genes, paths=f1_pathways, fdr=f1_fdr,
         sx=(54.7, 275), sy=(296, 442.7), bx=(487, 701), by=(290, 445),
         title_xy=(165, 272), letter_y=265, ytitle_x=25, label_right=475, xtitle_gap=34,
         shifts=[(3, 0), (-3, 8), (2, 0)]),
    dict(points=f2_points, red=f2_red, genes=f2_genes, paths=f2_pathways, fdr=f2_fdr,
         sx=(48.7, 269.3), sy=(552.3, 699.7), bx=(492, 702), by=(541.7, 693.3),
         title_xy=(166, 532), letter_y=518, ytitle_x=23, label_right=482, xtitle_gap=34,
         shifts=[(4, 0), (27, 18), (4, -2), (10, 0), (10, -9)]),
    dict(points=f3_points, red=f3_red, genes=f3_genes, paths=f3_pathways, fdr=f3_fdr,
         sx=(50, 270), sy=(810, 956.7), bx=(487, 702), by=(805, 958.3),
         title_xy=(159, 787), letter_y=776, ytitle_x=28, label_right=476, xtitle_gap=35,
         shifts=[(3, 4), (4, 3), (10, 4), (9, -2)]),
]

fig = go.Figure()
ann = []
layout = {}
tickfont = dict(family=FONT, size=12, color="black", weight="bold")

for i, p in enumerate(panels):
    sa, ba = 2 * i + 1, 2 * i + 2
    sx_name = "x" if sa == 1 else f"x{sa}"
    sy_name = "y" if sa == 1 else f"y{sa}"
    bx_name, by_name = f"x{ba}", f"y{ba}"

    xt, yt = volcano_x_ticks[i], volcano_y_ticks[i]
    # volcano scatter
    fig.add_trace(go.Scatter(
        x=[q[0] for q in p["points"]], y=[q[1] for q in p["points"]], mode="markers",
        marker=dict(color="black", size=4.8, line=dict(width=0)),
        xaxis=sx_name, yaxis=sy_name, hoverinfo="skip"))
    fig.add_trace(go.Scatter(
        x=[q[0] for q in p["red"]], y=[q[1] for q in p["red"]], mode="markers",
        marker=dict(color="#e8231f", size=4.8, line=dict(width=0)),
        xaxis=sx_name, yaxis=sy_name, hoverinfo="skip"))
    for (gx, gy), g, (dx, dy) in zip(p["red"], p["genes"], p["shifts"]):
        ann.append(dict(x=gx, y=gy, xref=sx_name, yref=sy_name, text=g, showarrow=False,
                        xanchor="left", yanchor="middle", xshift=dx, yshift=dy,
                        font=dict(family=FONT, size=8.5, color="#b8312c")))

    axis_common = dict(showgrid=False, zeroline=False, showline=True, linecolor="black",
                       linewidth=1.6, mirror=True, ticks="outside", ticklen=4, tickwidth=1.5,
                       tickcolor="black", tickfont=tickfont)
    layout["xaxis" if sa == 1 else f"xaxis{sa}"] = dict(
        axis_common, domain=[fx(p["sx"][0]), fx(p["sx"][1])], range=[xt[0], xt[-1]],
        tickvals=xt, anchor=sy_name)
    layout["yaxis" if sa == 1 else f"yaxis{sa}"] = dict(
        axis_common, domain=[fy(p["sy"][1]), fy(p["sy"][0])], range=[yt[0], yt[-1]],
        tickvals=yt, anchor=sx_name)

    # bar chart
    n = len(p["paths"])
    fig.add_trace(go.Bar(
        x=p["fdr"], y=list(range(n)), orientation="h", width=0.35,
        marker=dict(color=BLUE, line=dict(color="#6f93d8", width=1)),
        xaxis=bx_name, yaxis=by_name, hoverinfo="skip"))
    bt = bar_x_ticks[i]
    layout[f"xaxis{ba}"] = dict(
        showgrid=False, zeroline=False, showline=True, linecolor="black", linewidth=1.6, mirror=True,
        ticks="outside", ticklen=3, tickwidth=1.2, tickcolor="black", tickfont=tickfont,
        domain=[fx(p["bx"][0]), fx(p["bx"][1])], range=[bt[0], bt[-1]], tickvals=bt, anchor=by_name)
    layout[f"yaxis{ba}"] = dict(
        showgrid=False, zeroline=False, showline=True, linecolor="black", linewidth=1.6, mirror=True,
        ticks="", showticklabels=False, domain=[fy(p["by"][1]), fy(p["by"][0])],
        range=[n - 0.5, -0.5], anchor=bx_name)
    for j, lab in enumerate(p["paths"]):
        ann.append(dict(x=fx(p["label_right"]), y=j, xref="paper", yref=by_name, text=lab,
                        showarrow=False, xanchor="right", yanchor="middle", align="center",
                        xshift=12 if lab.endswith("…") else 0,
                        font=dict(family=FONT, size=13, color="black", weight="bold")))

    # axis titles
    ann.append(dict(x=fx(p["ytitle_x"]), y=fy((p["sy"][0] + p["sy"][1]) / 2), xref="paper", yref="paper",
                    text="-log10(adj. P-value)", textangle=-90, showarrow=False,
                    xanchor="center", yanchor="middle",
                    font=dict(family=FONT, size=12.5, color="black", weight="bold")))
    ann.append(dict(x=fx((p["sx"][0] + p["sx"][1]) / 2), y=fy(p["sy"][1] + p["xtitle_gap"]),
                    xref="paper", yref="paper",
                    text="log2(BPA/CTL)", showarrow=False, xanchor="center", yanchor="middle",
                    font=dict(family=FONT, size=12.5, color="black", weight="bold")))
    ann.append(dict(x=fx((p["bx"][0] + p["bx"][1]) / 2), y=fy(p["by"][1] + 33), xref="paper", yref="paper",
                    text="-log10(FDR)", showarrow=False, xanchor="center", yanchor="middle",
                    font=dict(family=FONT, size=12.5, color="black", weight="bold")))
    # panel title & letter
    ann.append(dict(x=fx(p["title_xy"][0]), y=fy(p["title_xy"][1]), xref="paper", yref="paper",
                    text=panel_titles[i], showarrow=False, xanchor="center", yanchor="middle",
                    font=dict(family=FONT, size=14, color="black", weight="bold")))
    ann.append(dict(x=fx(10), y=fy(p["letter_y"]), xref="paper", yref="paper",
                    text=panel_letters[i], showarrow=False, xanchor="center", yanchor="middle",
                    font=dict(family=FONT, size=21, color="black")))

ann.append(dict(x=fx(503), y=fy(12), xref="paper", yref="paper", text="Upregulated Reactome Pathways",
                showarrow=False, xanchor="center", yanchor="middle",
                font=dict(family=FONT, size=15.5, color="black", weight="bold")))

fig.update_layout(width=W, height=H, margin=dict(l=0, r=0, t=0, b=0), paper_bgcolor="white",
                  plot_bgcolor="white", showlegend=False, annotations=ann, **layout)
fig.write_html("out.html", config={"displayModeBar": False},
               post_script="document.body.style.margin='0px';")
